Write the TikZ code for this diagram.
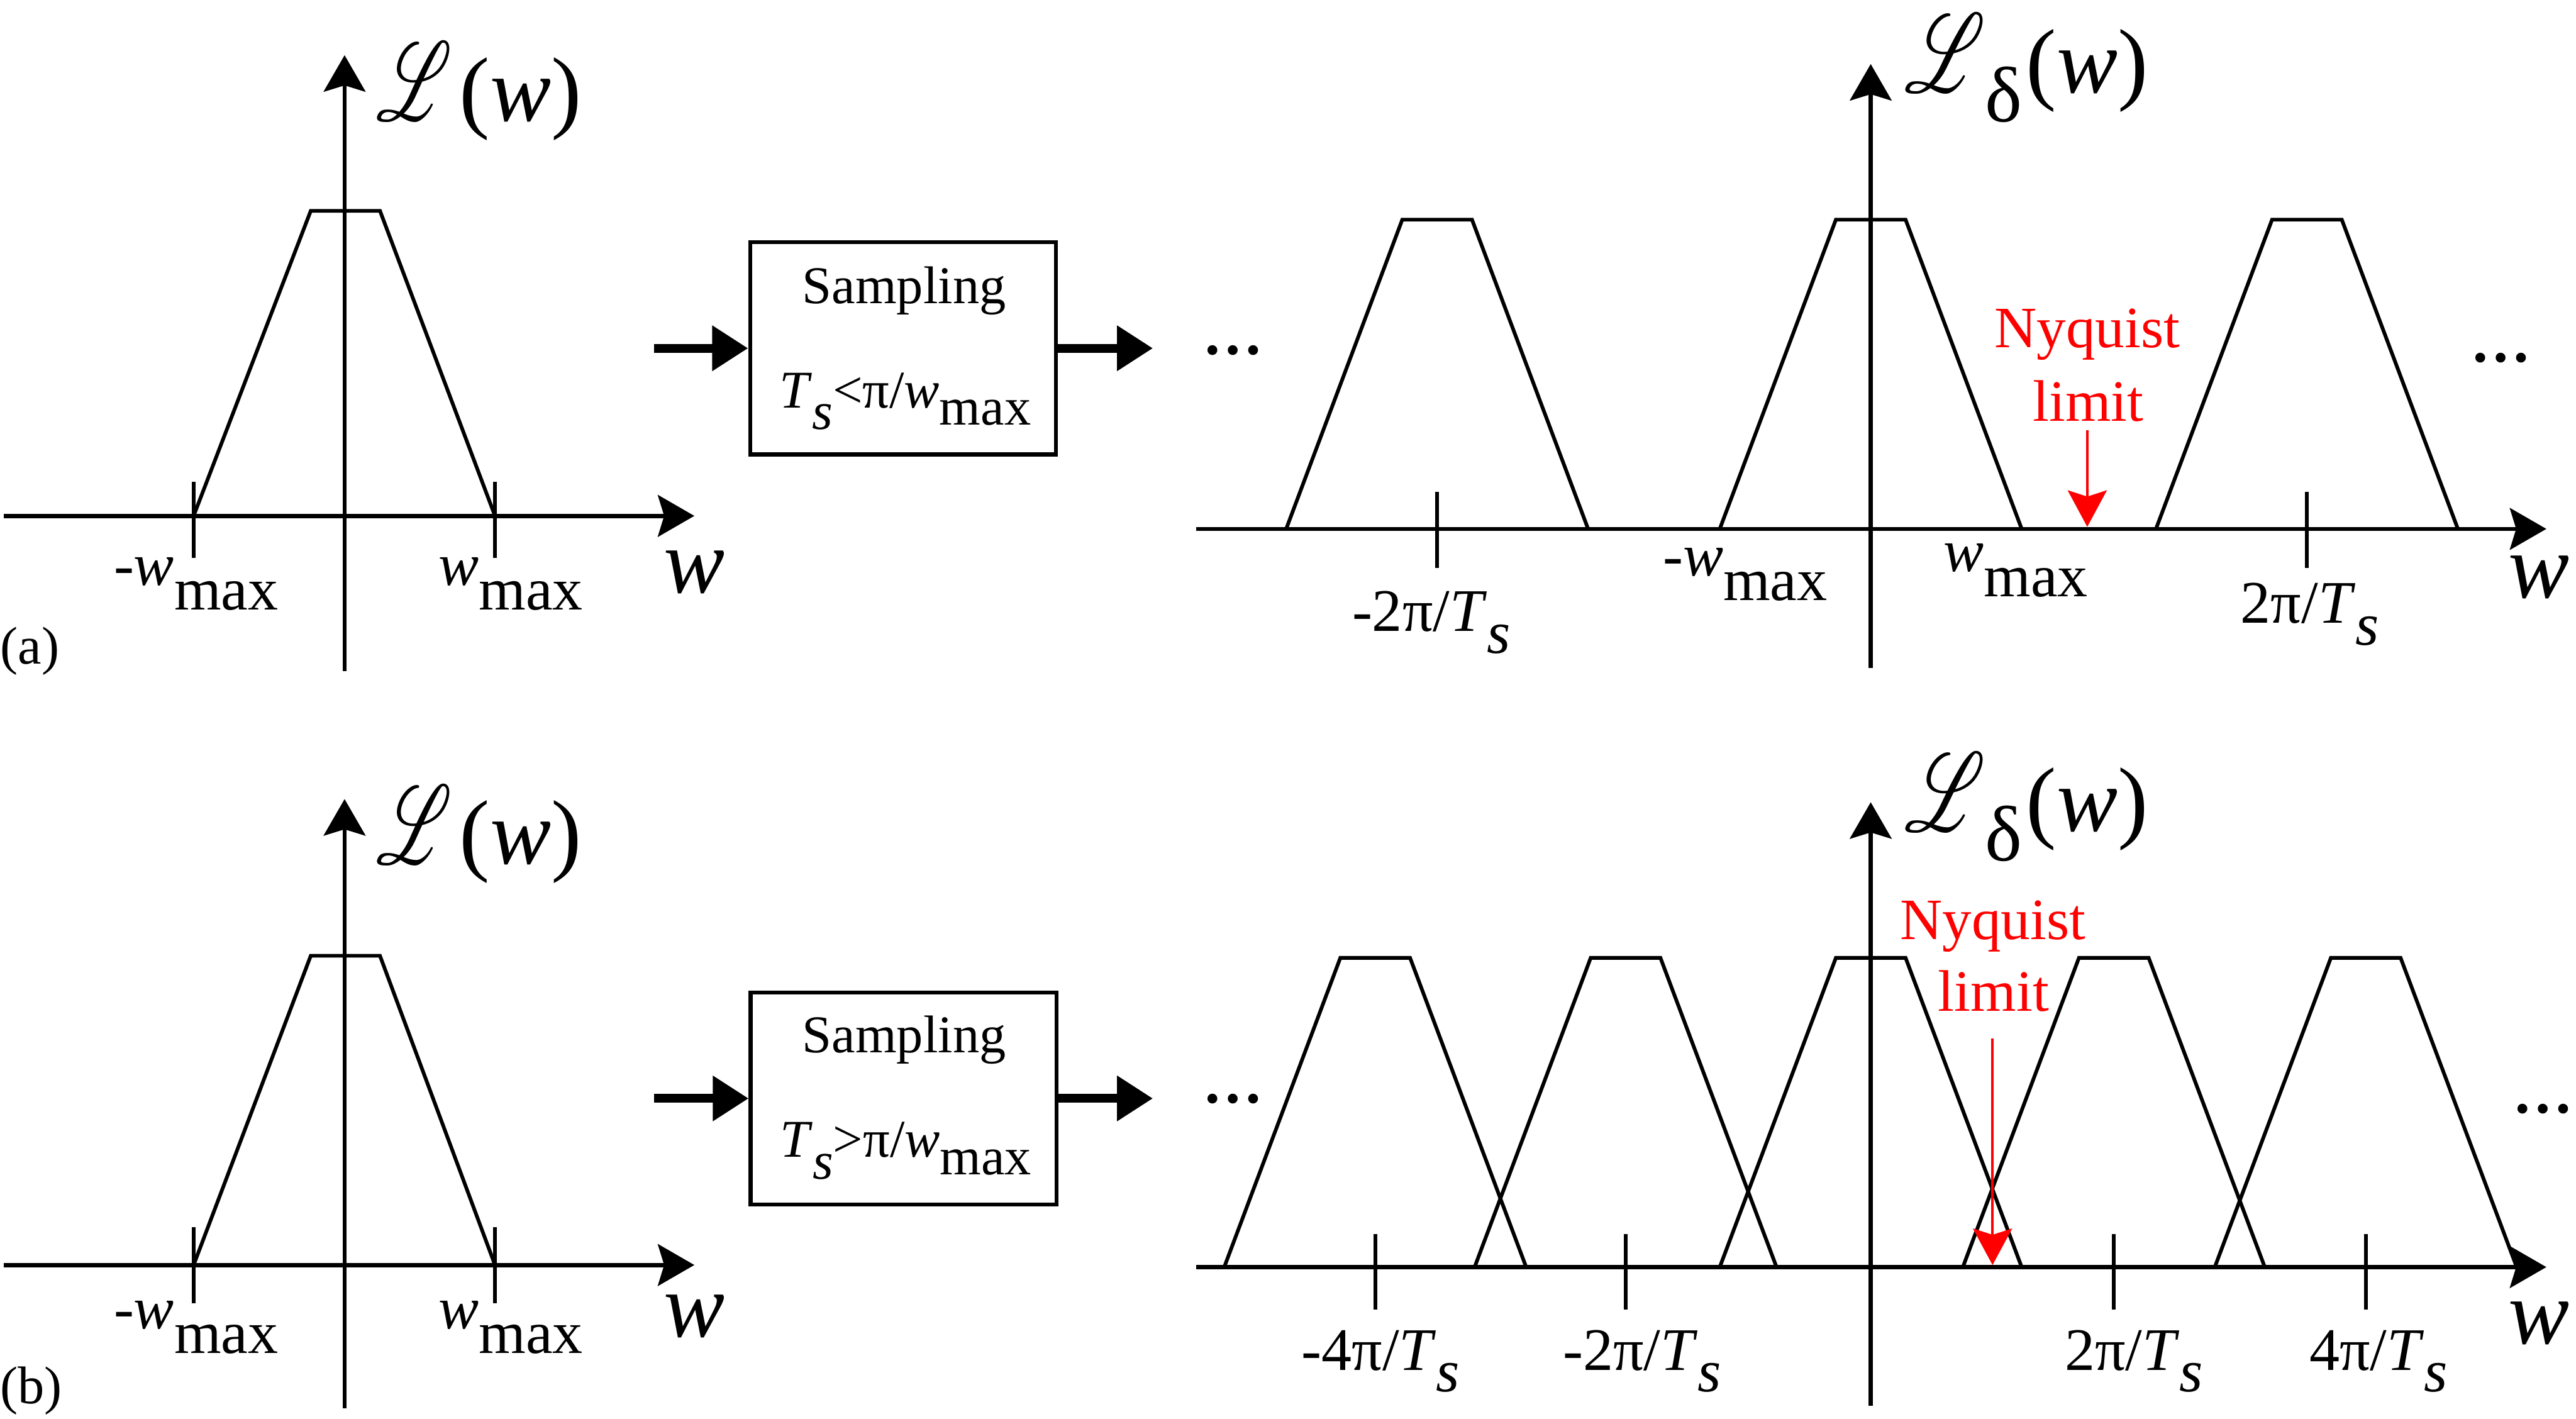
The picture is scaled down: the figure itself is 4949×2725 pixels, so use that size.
\documentclass[tikz,border=0pt]{standalone}
\usepackage{fontspec}
\setmainfont{Liberation Serif}
\usepackage{mathrsfs}
\usetikzlibrary{arrows.meta}
\newcommand{\dn}[2]{\raisebox{-#1em}{#2}}
\begin{document}
\begin{tikzpicture}[x=0.01cm,y=-0.01cm,
  axis/.style={line width=2.3pt, -{Stealth[length=0.70cm,width=0.80cm,inset=0.12cm]}},
  trap/.style={line width=2pt, line join=miter},
  tickmark/.style={line width=2pt},
  big/.style={inner sep=0, font=\fontsize{50}{60}\selectfont},
  lab/.style={inner sep=0, font=\fontsize{33}{40}\selectfont, anchor=base west},
  boxtxt/.style={inner sep=0, font=\fontsize{29}{35}\selectfont, anchor=base},
  nyq/.style={inner sep=0, text=red, font=\fontsize{32}{38}\selectfont, anchor=base},
  nyqarrow/.style={red, line width=1.3pt, -{Stealth[length=0.70cm,width=0.75cm,inset=0.12cm]}},
  flow/.style={line width=0.17cm, -{Triangle[length=0.69cm,width=0.83cm]}},
  sbox/.style={draw, line width=0.08cm, minimum width=5.87cm, minimum height=4.07cm, inner sep=0},
  ell/.style={inner sep=0, font=\fontsize{33}{40}\selectfont\bfseries, anchor=base west},
  scr/.style={inner sep=0, anchor=south west},
  paneltag/.style={inner sep=0, font=\fontsize{29}{35}\selectfont, anchor=base west},
]
\useasboundingbox (0,0) rectangle (4949,2725);

% ================= (a) left panel =================
\draw[trap] (372,991) -- (597,405) -- (730,405) -- (951,991);
\draw[axis] (7,991) -- (1334,991);
\draw[axis] (662,1289) -- (662,106);
\draw[tickmark] (372,926) -- (372,1072);
\draw[tickmark] (951,926) -- (951,1072);
\node[scr] (La) at (723,232) {\resizebox{1.45cm}{1.5cm}{$\mathscr{L}$}};
\node[big, anchor=base west] (Law) at (882,232) {(\textit{w})};
\node[lab] (wma1) at (218,1124) {-\textit{w}\dn{0.41}{max}};
\node[lab] (wma2) at (842,1124) {\textit{w}\dn{0.41}{max}};
\node[big, anchor=base west] (wa) at (1275,1139) {\textit{w}};
\node[paneltag] (capa) at (0,1275) {(a)};

% box (a)
\node[sbox] (box1) at (1735,669) {};
\node[boxtxt] (s1) at (1737,583) {Sampling};
\node[boxtxt] (t1) at (1739,783) {\textit{T}\dn{0.41}{\textit{s}}<π/\textit{w}\dn{0.33}{max}};
\coordinate (in1) at (1256,669);
\coordinate (out1) at (2215,669);
\draw[flow] (in1) -- (box1.west);
\draw[flow] (box1.east) -- (out1);

% ================= (a) right panel =================
\foreach \c in {2761,3594,4432}
  \draw[trap] (\c-290,1016) -- (\c-67,422) -- (\c+67,422) -- (\c+290,1016);
\draw[axis] (2298,1016) -- (4892,1016);
\draw[axis] (3594,1283) -- (3594,123);
\draw[tickmark] (2761,945) -- (2761,1091);
\draw[tickmark] (4432,945) -- (4432,1091);
\node[scr] (Lc) at (3659,178) {\resizebox{1.55cm}{1.5cm}{$\mathscr{L}$}};
\node[inner sep=0, anchor=base west, font=\fontsize{43}{50}\selectfont] (Lcd) at (3813,234) {δ};
\node[big, anchor=base west] (Lcw) at (3892,178) {(\textit{w})};
\node[lab] (wmc1) at (3194,1106) {-\textit{w}\dn{0.41}{max}};
\node[lab] (wmc2) at (3733,1098) {\textit{w}\dn{0.41}{max}};
\node[lab] (tc1) at (2597,1213) {-2π/\textit{T}\dn{0.36}{\textit{s}}};
\node[lab] (tc2) at (4304,1197) {2π/\textit{T}\dn{0.36}{\textit{s}}};
\node[big, anchor=base west] (wc) at (4818,1148) {\textit{w}};
\node[ell] (ec1) at (2310,681) {…};
\node[ell] (ec2) at (4746,695) {…};
\node[nyq] (nyc1) at (4010,667) {Nyquist};
\node[nyq] (nyc2) at (4012,809) {limit};
\coordinate (nycs) at (4010,826);
\coordinate (nyce) at (4010,1012);
\draw[nyqarrow] (nycs) -- (nyce);

% ================= (b) left panel =================
\draw[trap] (372,2430) -- (597,1836) -- (730,1836) -- (951,2430);
\draw[axis] (7,2430) -- (1334,2430);
\draw[axis] (662,2705) -- (662,1535);
\draw[tickmark] (372,2357) -- (372,2503);
\draw[tickmark] (951,2357) -- (951,2503);
\node[scr] (Lb) at (723,1660) {\resizebox{1.45cm}{1.5cm}{$\mathscr{L}$}};
\node[big, anchor=base west] (Lbw) at (882,1660) {(\textit{w})};
\node[lab] (wmb1) at (218,2552) {-\textit{w}\dn{0.41}{max}};
\node[lab] (wmb2) at (842,2552) {\textit{w}\dn{0.41}{max}};
\node[big, anchor=base west] (wb) at (1275,2568) {\textit{w}};
\node[paneltag] (capb) at (0,2696) {(b)};

% box (b)
\node[sbox] (box2) at (1736,2110) {};
\node[boxtxt] (s2) at (1737,2022) {Sampling};
\node[boxtxt] (t2) at (1740,2223) {\textit{T}\dn{0.41}{\textit{s}}>π/\textit{w}\dn{0.33}{max}};
\coordinate (in2) at (1256,2110);
\coordinate (out2) at (2215,2110);
\draw[flow] (in2) -- (box2.west);
\draw[flow] (box2.east) -- (out2);

% ================= (b) right panel =================
\foreach \c in {2642,3123,3594,4061,4545}
  \draw[trap] (\c-290,2434) -- (\c-67,1840) -- (\c+67,1840) -- (\c+290,2434);
\draw[axis] (2298,2434) -- (4892,2434);
\draw[axis] (3594,2700) -- (3594,1541);
\foreach \c in {2642,3123,4061,4545}
  \draw[tickmark] (\c,2370) -- (\c,2516);
\node[scr] (Ld) at (3659,1597) {\resizebox{1.55cm}{1.5cm}{$\mathscr{L}$}};
\node[inner sep=0, anchor=base west, font=\fontsize{43}{50}\selectfont] (Ldd) at (3813,1653) {δ};
\node[big, anchor=base west] (Ldw) at (3892,1597) {(\textit{w})};
\node[lab] (td1) at (2500,2632) {-4π/\textit{T}\dn{0.36}{\textit{s}}};
\node[lab] (td2) at (3002,2632) {-2π/\textit{T}\dn{0.36}{\textit{s}}};
\node[lab] (td3) at (3966,2632) {2π/\textit{T}\dn{0.36}{\textit{s}}};
\node[lab] (td4) at (4436,2632) {4π/\textit{T}\dn{0.36}{\textit{s}}};
\node[big, anchor=base west] (wd) at (4818,2582) {\textit{w}};
\node[ell] (ed1) at (2310,2119) {…};
\node[ell] (ed2) at (4827,2138) {…};
\node[nyq] (nyd1) at (3829,1804) {Nyquist};
\node[nyq] (nyd2) at (3830,1942) {limit};
\coordinate (nyds) at (3828,1995);
\coordinate (nyde) at (3828,2430);
\draw[nyqarrow] (nyds) -- (nyde);
\end{tikzpicture}
\end{document}
